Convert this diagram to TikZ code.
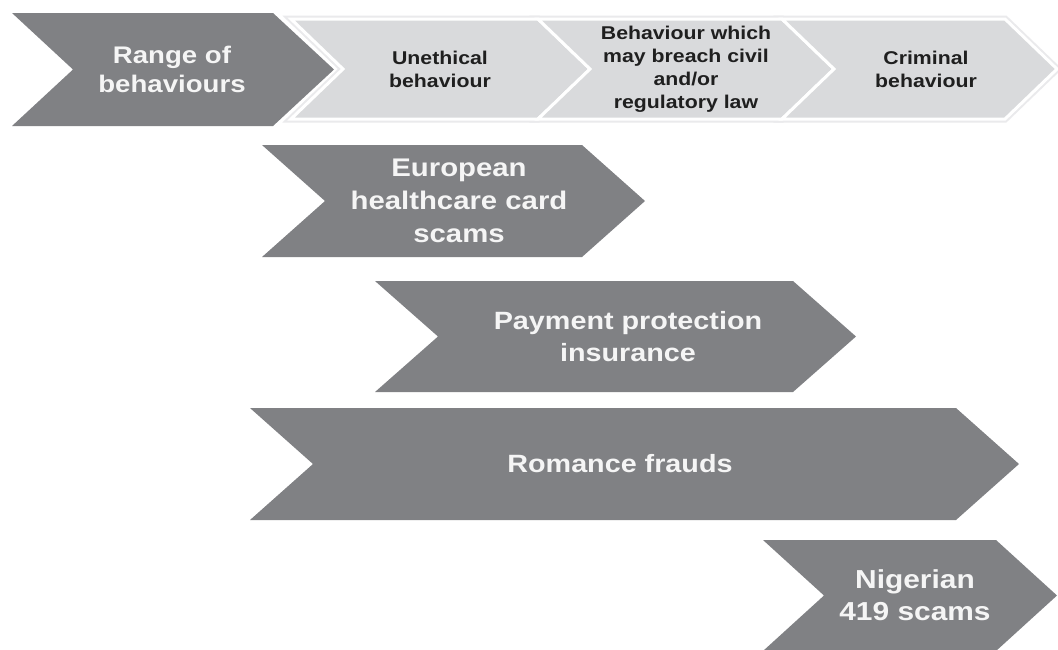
\documentclass[tikz,border=0pt]{standalone}
\usepackage{fontspec}
\setmainfont[FakeStretch=1.15]{Liberation Sans}
\definecolor{chevdark}{RGB}{128,129,132}
\definecolor{chevlight}{RGB}{217,218,220}
\definecolor{chevhalo}{RGB}{234,234,236}
% chevron: left x, top-right x, top y, bottom y, tip depth, style
\newcommand{\chevron}[6]{%
  \path[#6] (#1,#3) -- (#2,#3) -- ({#2+#5},{(#3+#4)/2}) -- (#2,#4) -- (#1,#4)
    -- ({#1+#5},{(#3+#4)/2}) -- cycle;}
\begin{document}
\begin{tikzpicture}[x=1pt,y=-1pt,
  darkchev/.style={fill=chevdark},
  lightchev/.style={fill=chevlight, draw=white, line width=3pt, line join=miter},
  halochev/.style={draw=chevhalo, line width=7pt, line join=miter},
  darktext/.style={text=white!96!black, align=center, inner sep=0pt},
  lighttext/.style={text=black!88, align=center, inner sep=0pt,
    font=\bfseries\fontsize{18.5}{23}\selectfont}]
\fill[white] (0,0) rectangle (1058,649);
\useasboundingbox (0,0) rectangle (1058,649);

% heading chevron
\chevron{12}{273}{13}{126}{61}{darkchev}
\node[darktext, font=\bfseries\fontsize{24}{29}\selectfont] (range) at (172,69.5) {Range of\\behaviours};

% scale of behaviours
\chevron{291}{538}{19}{119}{52}{halochev}
\chevron{538}{782}{19}{119}{52}{halochev}
\chevron{782}{1005}{19}{119}{52}{halochev}
\chevron{291}{538}{19}{119}{52}{lightchev}
\chevron{538}{782}{19}{119}{52}{lightchev}
\chevron{782}{1005}{19}{119}{52}{lightchev}
\node[lighttext] (unethical) at (440,69) {Unethical\\behaviour};
\node[lighttext] (civil) at (686,69) {Behaviour which\\may breach civil\\and/or\\regulatory law};
\node[lighttext] (criminal) at (926,69) {Criminal\\behaviour};

% examples
\chevron{262}{582}{145}{257}{63}{darkchev}
\node[darktext, font=\bfseries\fontsize{25.5}{33}\selectfont] (ehic) at (459,201) {European\\healthcare card\\scams};

\chevron{375}{793}{281}{392}{63}{darkchev}
\node[darktext, font=\bfseries\fontsize{25}{32}\selectfont] (ppi) at (628,336.5) {Payment protection\\insurance};

\chevron{250}{956}{408}{520}{63}{darkchev}
\node[darktext, font=\bfseries\fontsize{25}{32}\selectfont] (romance) at (620,464) {Romance frauds};

\chevron{763}{996}{540}{651}{61}{darkchev}
\node[darktext, font=\bfseries\fontsize{26}{32}\selectfont] (nigerian) at (915,595) {Nigerian\\419 scams};
\end{tikzpicture}
\end{document}
